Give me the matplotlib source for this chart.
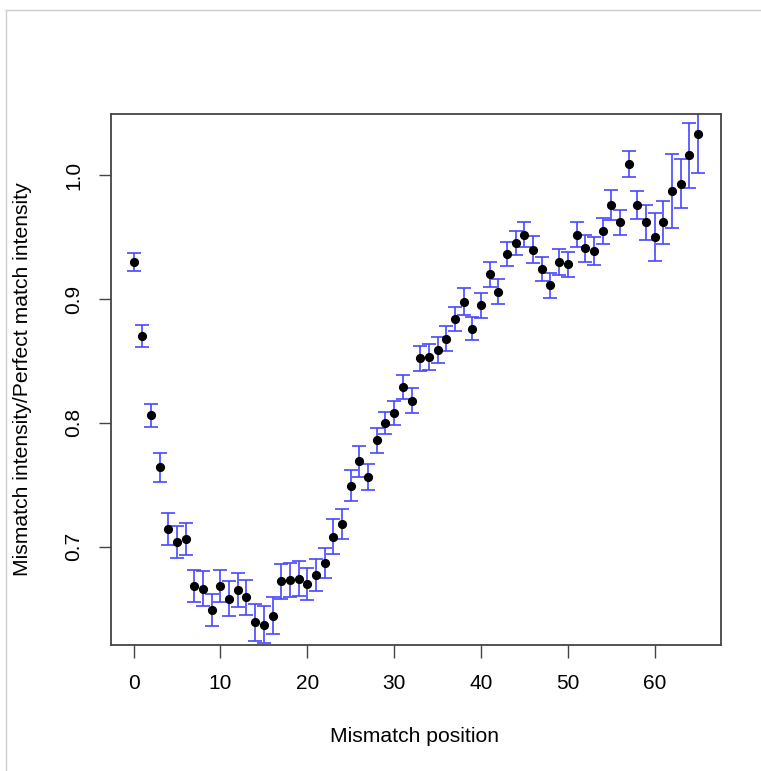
import numpy as np
import matplotlib
matplotlib.use('Agg')
import matplotlib.pyplot as plt
from matplotlib.lines import Line2D

plt.rcParams['font.family'] = ['Liberation Sans', 'DejaVu Sans']

# mismatch position vs mean MM/PM ratio, with standard errors
position = list(range(66))
ratio = [0.930, 0.870, 0.806, 0.764, 0.714, 0.704, 0.706, 0.668, 0.666, 0.649,
         0.668, 0.658, 0.665, 0.659, 0.639, 0.637, 0.644, 0.672, 0.673, 0.674,
         0.670, 0.677, 0.687, 0.708, 0.718, 0.749, 0.769, 0.756, 0.786, 0.800,
         0.808, 0.829, 0.818, 0.852, 0.853, 0.859, 0.868, 0.884, 0.898, 0.876,
         0.895, 0.920, 0.906, 0.936, 0.945, 0.952, 0.940, 0.924, 0.911, 0.930,
         0.928, 0.952, 0.941, 0.939, 0.955, 0.976, 0.962, 1.009, 0.976, 0.962,
         0.950, 0.962, 0.987, 0.993, 1.016, 1.033]
err = [0.007, 0.009, 0.009, 0.012, 0.013, 0.013, 0.013, 0.013, 0.014, 0.013,
       0.013, 0.014, 0.014, 0.014, 0.015, 0.015, 0.015, 0.014, 0.014, 0.014,
       0.013, 0.013, 0.012, 0.014, 0.012, 0.0125, 0.0125, 0.0105, 0.010, 0.009,
       0.0097, 0.0098, 0.0103, 0.010, 0.0103, 0.0103, 0.010, 0.0097, 0.0108, 0.0092,
       0.010, 0.0099, 0.010, 0.0097, 0.0098, 0.010, 0.0106, 0.0097, 0.0103, 0.0106,
       0.0104, 0.010, 0.011, 0.0113, 0.0106, 0.0118, 0.0102, 0.0107, 0.011, 0.014,
       0.0195, 0.0175, 0.030, 0.0198, 0.0266, 0.031]

xticks = [0, 10, 20, 30, 40, 50, 60]
yticks = [0.7, 0.8, 0.9, 1.0]

W, H = 761, 771
fig = plt.figure(figsize=(W / 100, H / 100), dpi=100)
ax = fig.add_axes([111 / W, 1 - 645 / H, (720.7 - 111) / W, (645 - 114) / H])

ax.errorbar(position, ratio, yerr=err, fmt='none', ecolor='#4848ff',
            elinewidth=1.2, capsize=4.7, capthick=1.2, zorder=2)
ax.plot(position, ratio, 'o', color='black', markersize=5.6, zorder=3)

ax.set_xlim(-2.6, 67.6)
ax.set_ylim(0.6205, 1.0495)
ax.set_xticks(xticks)
ax.set_xticklabels([str(t) for t in xticks])
ax.set_yticks(yticks)
ax.set_yticklabels([f'{t:.1f}' for t in yticks], rotation=90, va='center')
ax.tick_params(length=9, width=1, color='#444444', labelsize=15)
ax.tick_params(axis='x', pad=12)
ax.tick_params(axis='y', pad=11)

for s in ax.spines.values():
    s.set_color('#444444')
    s.set_linewidth(1.3)

fig.text(415 / W, 1 - 736 / H, 'Mismatch position', ha='center', va='center', fontsize=15.2)
fig.text(23 / W, 1 - 379.5 / H, 'Mismatch intensity/Perfect match intensity',
         ha='center', va='center', rotation=90, fontsize=15.2)

# light screenshot border on top and left
fig.add_artist(Line2D([5.5 / W, 1], [1 - 9.5 / H, 1 - 9.5 / H], transform=fig.transFigure,
                      color='#cccccc', lw=1))
fig.add_artist(Line2D([5.5 / W, 5.5 / W], [0, 1 - 9.5 / H], transform=fig.transFigure,
                      color='#cccccc', lw=1))

fig.savefig('out.png', dpi=100)
